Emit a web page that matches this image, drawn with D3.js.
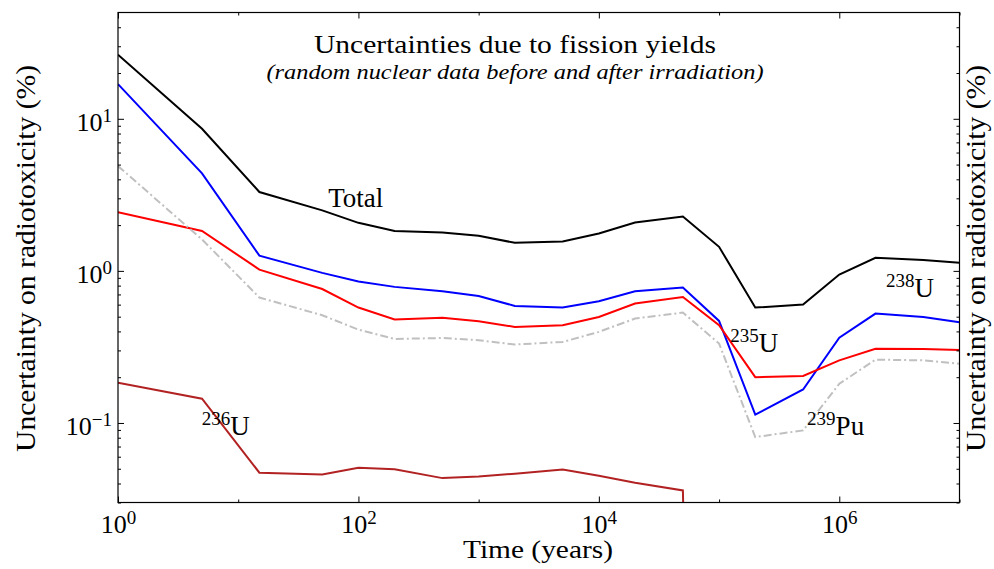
<!DOCTYPE html>
<html>
<head>
<meta charset="utf-8">
<script src="https://cdnjs.cloudflare.com/ajax/libs/d3/7.8.5/d3.min.js"></script>
<style>
  body { margin: 0; background: #fff; }
  svg text { font-family: "Liberation Serif", "DejaVu Serif", serif; fill: #000; }
</style>
</head>
<body>
<div class="chart"></div>
<script>
// time steps after irradiation (years)
var years = [1, 5, 15, 50, 100, 200, 500, 1e3, 2e3, 5e3, 1e4, 2e4, 5e4, 1e5, 2e5, 5e5, 1e6, 2e6, 5e6, 1e7];

// uncertainty on radiotoxicity (%) for each contributor
var total = [26.4, 8.6, 3.30, 2.50, 2.07, 1.83, 1.79, 1.70, 1.53, 1.56, 1.76, 2.08, 2.28, 1.44, 0.574, 0.601, 0.947, 1.22, 1.18, 1.13];
var u238 = [16.9, 4.38, 1.26, 0.97, 0.851, 0.785, 0.735, 0.684, 0.588, 0.574, 0.632, 0.735, 0.777, 0.469, 0.1135, 0.166, 0.364, 0.524, 0.498, 0.459];
var u235 = [2.43, 1.83, 1.02, 0.76, 0.574, 0.479, 0.491, 0.467, 0.428, 0.439, 0.498, 0.610, 0.674, 0.44, 0.200, 0.204, 0.258, 0.308, 0.307, 0.302];
var pu239 = [4.89, 1.61, 0.668, 0.511, 0.411, 0.357, 0.362, 0.350, 0.328, 0.341, 0.397, 0.486, 0.532, 0.333, 0.0808, 0.0894, 0.181, 0.261, 0.258, 0.245];
var u236 = [0.184, 0.1445, 0.0471, 0.0459, 0.0508, 0.0497, 0.0434, 0.0445, 0.0464, 0.0495, 0.0450, 0.0404, 0.0360, 0, 0, 0, 0, 0, 0, 0];

// axis ticks
var xMajor = [1, 1e2, 1e4, 1e6];
var xMinor = [10, 1e3, 1e5, 1e7];
var yMajor = [0.1, 1, 10];
var yMinor = [0.03, 0.04, 0.05, 0.06, 0.07, 0.08, 0.09,
  0.2, 0.3, 0.4, 0.5, 0.6, 0.7, 0.8, 0.9,
  2, 3, 4, 5, 6, 7, 8, 9, 20, 30, 40];

// labels placed in data coordinates: [year, value, mass number, element]
var labels = [
  [56, 2.63, '', 'Total'],
  [2.45e6, 0.674, '238', 'U'],
  [1.236e5, 0.293, '235', 'U'],
  [5.4e5, 0.0828, '239', 'Pu'],
  [4.97, 0.0828, '236', 'U']
];

var font = '"Liberation Serif", "DejaVu Serif", serif';

var margin = { top: 12.5, right: 34.5, bottom: 66.5, left: 118 };
var width = 994 - margin.left - margin.right;
var height = 569 - margin.top - margin.bottom;

var svg = d3.select('.chart')
  .append('svg')
    .attr('width', 994)
    .attr('height', 569)
  .append('g')
    .attr('transform', `translate(${margin.left}, ${margin.top})`);

var xScale = d3.scaleLog().domain([1, 1e7]).range([0, width]);
var yScale = d3.scaleLog().domain([0.03, 50]).range([height, 0]);

svg.append('clipPath')
    .attr('id', 'plot-clip')
  .append('rect')
    .attr('width', width)
    .attr('height', height);

// log axes cannot show zero, so send it far below like matplotlib does
var line = d3.line()
  .x((d, i) => xScale(years[i]))
  .y(d => yScale(d > 0 ? d : 1e-12));

var series = [
  { values: total, color: '#000000', dash: null },
  { values: u238, color: '#0000ff', dash: null },
  { values: u235, color: '#ff0000', dash: null },
  { values: pu239, color: '#c0c0c0', dash: '8,3,2,3' },
  { values: u236, color: '#b22222', dash: null }
];

svg.append('g')
    .attr('clip-path', 'url(#plot-clip)')
  .selectAll('.series')
  .data(series)
  .enter()
  .append('path')
    .attr('class', 'series')
    .attr('d', d => line(d.values))
    .style('fill', 'none')
    .style('stroke', d => d.color)
    .style('stroke-width', 2)
    .style('stroke-dasharray', d => d.dash)
    .style('stroke-linejoin', 'miter');

// 10^n tick labels with a real superscript
function powLabel(text) {
  text.each(function (d) {
    var e = Math.round(Math.log10(d));
    var t = d3.select(this).text(null);
    t.append('tspan').text('10');
    t.append('tspan')
      .attr('dy', -9)
      .style('font-size', '19px')
      .text(e < 0 ? '\u2212' + (-e) : e);
  });
}

function styleAxis(g) {
  g.attr('font-family', font);
  g.select('.domain').remove();
  g.selectAll('.tick line').attr('stroke', '#000').attr('stroke-width', 1);
  g.selectAll('.tick text')
    .attr('fill', '#000')
    .style('font-size', '26px')
    .style('font-family', font);
}

// bottom
svg.append('g')
    .attr('transform', `translate(0, ${height})`)
    .call(d3.axisBottom(xScale).tickValues(xMajor).tickSize(-6).tickPadding(12))
    .call(styleAxis)
    .call(g => g.selectAll('.tick text').call(powLabel));
svg.append('g')
    .attr('transform', `translate(0, ${height})`)
    .call(d3.axisBottom(xScale).tickValues(xMinor).tickSize(-3).tickFormat(''))
    .call(styleAxis);
// top
svg.append('g')
    .call(d3.axisTop(xScale).tickValues(xMajor).tickSize(-6).tickFormat(''))
    .call(styleAxis);
svg.append('g')
    .call(d3.axisTop(xScale).tickValues(xMinor).tickSize(-3).tickFormat(''))
    .call(styleAxis);

// left
svg.append('g')
    .call(d3.axisLeft(yScale).tickValues(yMajor).tickSize(-6).tickPadding(6))
    .call(styleAxis)
    .call(g => g.selectAll('.tick text').attr('dy', '0.44em').call(powLabel));
svg.append('g')
    .call(d3.axisLeft(yScale).tickValues(yMinor).tickSize(-3).tickFormat(''))
    .call(styleAxis);
// right
svg.append('g')
    .attr('transform', `translate(${width}, 0)`)
    .call(d3.axisRight(yScale).tickValues(yMajor).tickSize(-6).tickFormat(''))
    .call(styleAxis);
svg.append('g')
    .attr('transform', `translate(${width}, 0)`)
    .call(d3.axisRight(yScale).tickValues(yMinor).tickSize(-3).tickFormat(''))
    .call(styleAxis);

// frame
svg.append('rect')
    .attr('width', width)
    .attr('height', height)
    .style('fill', 'none')
    .style('stroke', '#000')
    .style('stroke-width', 1.2);

// curve labels
svg.selectAll('.curve-label')
  .data(labels)
  .enter()
  .append('text')
    .attr('class', 'curve-label')
    .attr('x', d => xScale(d[0]))
    .attr('y', d => yScale(d[1]))
    .style('font-size', '27px')
    .style('font-family', font)
    .each(function (d) {
      var t = d3.select(this);
      if (d[2]) {
        t.append('tspan').attr('dy', -10).style('font-size', '19px').text(d[2]);
        t.append('tspan').attr('dy', 10).text(d[3]);
      } else {
        t.text(d[3]);
      }
    });

// titles
svg.append('text')
    .attr('x', 397)
    .attr('y', 40.5)
    .attr('text-anchor', 'middle')
    .attr('textLength', 402)
    .attr('lengthAdjust', 'spacingAndGlyphs')
    .style('font-size', '26px')
    .style('font-family', font)
    .text('Uncertainties due to fission yields');

svg.append('text')
    .attr('x', 397)
    .attr('y', 66)
    .attr('text-anchor', 'middle')
    .attr('textLength', 497)
    .attr('lengthAdjust', 'spacingAndGlyphs')
    .style('font-size', '21px')
    .style('font-style', 'italic')
    .style('font-family', font)
    .text('(random nuclear data before and after irradiation)');

// axis labels
svg.append('text')
    .attr('x', 538 - margin.left)
    .attr('y', 558 - margin.top)
    .attr('text-anchor', 'middle')
    .attr('textLength', 150)
    .attr('lengthAdjust', 'spacingAndGlyphs')
    .style('font-size', '25px')
    .style('font-family', font)
    .text('Time (years)');

[35, 985].forEach(function (xPos) {
  svg.append('text')
      .attr('transform', `translate(${xPos - margin.left}, ${258.5 - margin.top}) rotate(-90)`)
      .attr('text-anchor', 'middle')
      .attr('textLength', 387)
      .attr('lengthAdjust', 'spacingAndGlyphs')
      .style('font-size', '28px')
      .style('font-family', font)
      .text('Uncertainty on radiotoxicity (%)');
});
</script>
</body>
</html>
